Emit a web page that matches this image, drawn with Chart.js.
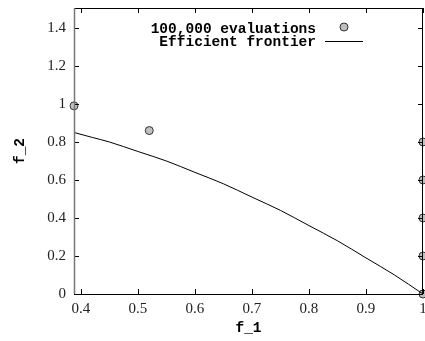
<!DOCTYPE html>
<html>
<head>
<meta charset="utf-8">
<script src="https://cdn.jsdelivr.net/npm/chart.js@4/dist/chart.umd.min.js"></script>
<style>
  html, body { margin: 0; padding: 0; background: #fff; }
  #wrap { width: 425px; height: 341px; }
</style>
</head>
<body>
<div id="wrap"><canvas id="chart"></canvas></div>
<script>
// sampled evaluations (f_1, f_2)
const evalF1 = [0.388, 0.52, 1, 1, 1, 1, 1];
const evalF2 = [0.99, 0.86, 0.8, 0.6, 0.4, 0.2, 0];

// efficient frontier
const frontF1 = [0.388, 0.42, 0.45, 0.5, 0.55, 0.6, 0.65, 0.7, 0.75, 0.8, 0.85, 0.9, 0.95, 1.0];
const frontF2 = [0.85, 0.824, 0.80, 0.75, 0.70, 0.64, 0.58, 0.51, 0.44, 0.36, 0.28, 0.19, 0.10, 0];

const legendLabels = ["100,000 evaluations", "Efficient frontier"];

const X_MIN = 0.388, X_MAX = 1, Y_MIN = 0, Y_MAX = 1.505;

const toPoints = (xs, ys) => xs.map((x, i) => ({ x: x, y: ys[i] }));
const fmt = v => String(+v.toFixed(2));

// frame, inward ticks and the in-plot legend
const framePlugin = {
  id: "frame",
  afterDraw(chart) {
    const ctx = chart.ctx;
    const a = chart.chartArea;
    const xs = chart.scales.x, ys = chart.scales.y;
    const tl = 5;
    ctx.save();
    ctx.lineWidth = 1;
    ctx.strokeStyle = "#000";
    ctx.beginPath();
    ctx.moveTo(a.left, a.top + 0.5); ctx.lineTo(a.right, a.top + 0.5);
    ctx.moveTo(a.left, a.bottom + 0.5); ctx.lineTo(a.right, a.bottom + 0.5);
    ctx.moveTo(a.right - 0.5, a.top); ctx.lineTo(a.right - 0.5, a.bottom);
    xs.ticks.forEach(t => {
      const px = Math.round(xs.getPixelForValue(t.value)) + 0.5;
      ctx.moveTo(px, a.bottom); ctx.lineTo(px, a.bottom - tl);
      ctx.moveTo(px, a.top); ctx.lineTo(px, a.top + tl);
    });
    ys.ticks.forEach(t => {
      const py = Math.round(ys.getPixelForValue(t.value)) + 0.5;
      ctx.moveTo(a.left, py); ctx.lineTo(a.left + tl, py);
      ctx.moveTo(a.right, py); ctx.lineTo(a.right - tl, py);
    });
    ctx.stroke();
    ctx.strokeStyle = "#777";
    ctx.lineWidth = 1.5;
    ctx.beginPath();
    ctx.moveTo(a.left + 0.5, a.top); ctx.lineTo(a.left + 0.5, a.bottom);
    ctx.stroke();

    // legend
    ctx.font = "bold 14.5px 'Liberation Mono', 'DejaVu Sans Mono', monospace";
    ctx.fillStyle = "#000";
    ctx.textAlign = "right";
    ctx.textBaseline = "middle";
    const tx = a.right - 107;
    ctx.fillText(legendLabels[0], tx, a.top + 21);
    ctx.fillText(legendLabels[1], tx, a.top + 34);
    ctx.beginPath();
    ctx.arc(a.right - 79, a.top + 19, 4, 0, Math.PI * 2);
    ctx.fillStyle = "#c0c0c0";
    ctx.fill();
    ctx.strokeStyle = "#333";
    ctx.lineWidth = 1;
    ctx.stroke();
    ctx.beginPath();
    ctx.moveTo(a.right - 98, a.top + 33.5);
    ctx.lineTo(a.right - 60, a.top + 33.5);
    ctx.strokeStyle = "#000";
    ctx.stroke();
    ctx.restore();
  }
};

new Chart(document.getElementById("chart"), {
  type: "scatter",
  data: {
    datasets: [
      {
        label: legendLabels[1],
        data: toPoints(frontF1, frontF2),
        showLine: true,
        borderColor: "#000",
        borderWidth: 1,
        pointRadius: 0,
        cubicInterpolationMode: "monotone",
        fill: false
      },
      {
        label: legendLabels[0],
        data: toPoints(evalF1, evalF2),
        pointRadius: 4,
        pointBackgroundColor: "#c0c0c0",
        pointBorderColor: "#333",
        pointBorderWidth: 1,
        clip: false
      }
    ]
  },
  options: {
    responsive: true,
    maintainAspectRatio: false,
    animation: false,
    layout: { autoPadding: false, padding: { top: 8, right: 2, left: 0, bottom: 0 } },
    plugins: {
      legend: { display: false },
      tooltip: { enabled: false }
    },
    scales: {
      x: {
        type: "linear",
        min: X_MIN,
        max: X_MAX,
        grid: { display: false, drawTicks: false },
        border: { display: false },
        ticks: {
          stepSize: 0.1,
          includeBounds: false,
          maxRotation: 0,
          padding: 6,
          color: "#222",
          font: { family: "'Liberation Serif', serif", size: 15 },
          callback: fmt
        },
        title: {
          display: true,
          text: "f_1",
          color: "#000",
          padding: { top: 0, bottom: 4 },
          font: { family: "'Liberation Mono', monospace", size: 14.5, weight: "bold" }
        },
        afterFit(s) { s.height = 47; s.paddingLeft = 0; s.paddingRight = 0; }
      },
      y: {
        type: "linear",
        min: Y_MIN,
        max: Y_MAX,
        grid: { display: false, drawTicks: false },
        border: { display: false },
        ticks: {
          stepSize: 0.2,
          includeBounds: false,
          padding: 8,
          color: "#222",
          font: { family: "'Liberation Serif', serif", size: 15 },
          callback: fmt
        },
        title: {
          display: true,
          text: "f_2",
          color: "#000",
          padding: { top: 12, bottom: 0 },
          font: { family: "'Liberation Mono', monospace", size: 14.5, weight: "bold" }
        },
        afterFit(s) { s.width = 74; s.paddingTop = 0; s.paddingBottom = 0; }
      }
    }
  },
  plugins: [framePlugin]
});
</script>
</body>
</html>
